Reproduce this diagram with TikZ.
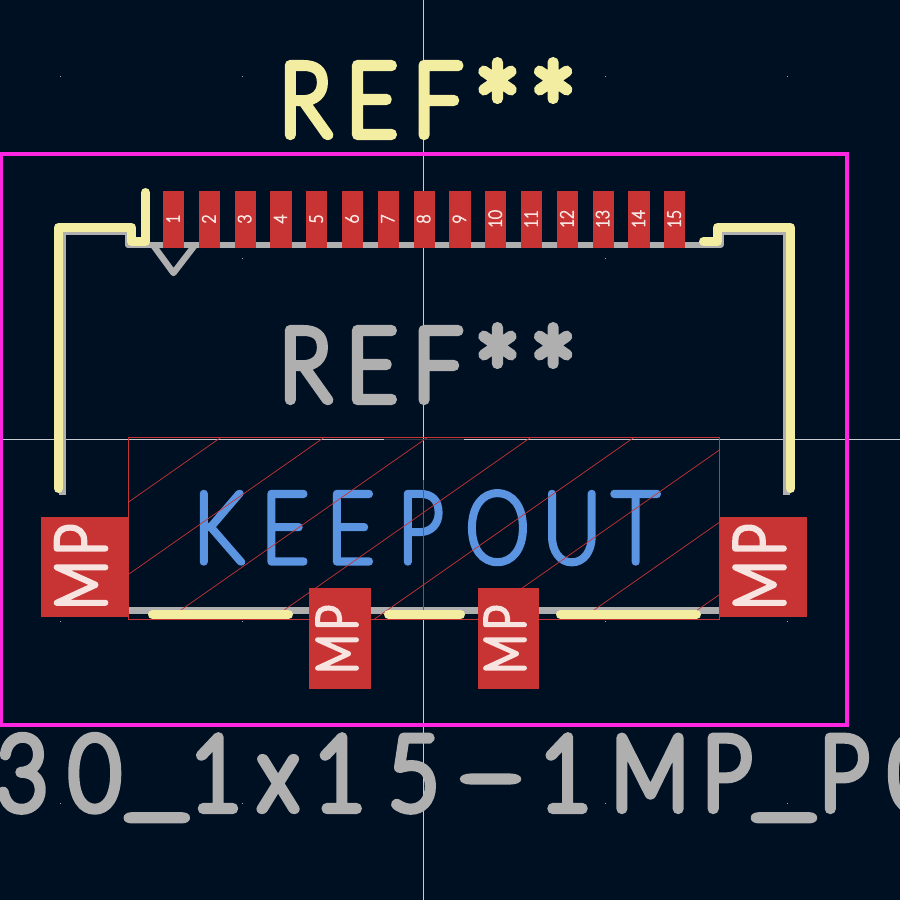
\documentclass[tikz,border=0pt]{standalone}
\usepackage{fontspec}
\setmainfont{Lato}
\newfontfamily\refF[LetterSpace=17,FakeStretch=.85]{Lato Hairline}
\newfontfamily\keepF[LetterSpace=19,FakeStretch=.82]{Lato Hairline}
\newfontfamily\longF[LetterSpace=22,FakeStretch=.85]{Lato Hairline}
\newfontfamily\padF[FakeStretch=.85]{Lato Hairline}
\newfontfamily\mpF[LetterSpace=8,FakeStretch=.78]{Lato Hairline}
\definecolor{bgc}{HTML}{001023}
\definecolor{silk}{HTML}{F2EDA1}
\definecolor{fab}{HTML}{AFAFAF}
\definecolor{court}{HTML}{FF26E2}
\definecolor{padc}{HTML}{C83434}
\definecolor{padt}{HTML}{F7E4E0}
\definecolor{keepc}{HTML}{5B94E0}
\definecolor{crossc}{HTML}{C8CCD0}
\newcommand{\strk}[2]{\special{pdf:code 2 Tr 1 J 1 j #1 w}#2\special{pdf:code 0 Tr}}
\newcommand{\lowast}{\raisebox{-25pt}{\fontsize{132}{132}\selectfont *}}
\newcommand{\wideus}{\raisebox{4pt}{\scalebox{1.5}[1]{\_}}}
\tikzset{
  silkline/.style={draw=silk,line width=9pt,line cap=round,line join=round},
  fabline/.style={draw=fab,line width=6.3pt,line cap=round,line join=round},
  txt/.style={inner sep=0pt,outer sep=0pt,anchor=base west},
  padnum/.style={inner sep=0pt,rotate=90,text=padt},
}
\begin{document}
\begin{tikzpicture}[x=1pt,y=-1pt]
\useasboundingbox (0,0) rectangle (900,900);
\begin{scope}
\clip (0,0) rectangle (900,900);
\fill[bgc] (0,0) rectangle (900,900);
\foreach \gx in {60,242,605,787}\foreach \gy in {76,258,621,803}
  \fill[gray!70] (\gx,\gy) rectangle ++(1,1);
\draw[crossc,line width=.7pt] (423.3,0) -- (423.3,900);
\draw[crossc,line width=.7pt] (0,439.3) -- (900,439.3);
\draw[court,line width=4pt] (1,154) rectangle (847,725);
\node[txt,text=fab,font=\longF\fontsize{102}{102}\selectfont] (valtxt) at (-3,809) {\strk{10}{30\kern8pt\wideus\kern5pt 1\kern18pt x\kern17pt 1\kern24pt 5\kern18pt\scalebox{2.1}[1]{-}\kern16pt 1\kern21pt M\kern14pt P\kern4pt\wideus\kern7pt P\kern21pt 0}};
\draw[fabline,line cap=butt] (62.5,495) -- (62.5,232) -- (128,232) -- (128,245) -- (720.5,245) -- (720.5,232) -- (786.5,232) -- (786.5,495);
\draw[fabline,line cap=butt] (129,610.5) -- (719,610.5);
\draw[fabline,line cap=butt,miter limit=4] (153,245) -- (173.5,273) -- (195,245);
\node[txt,text=silk,font=\refF\fontsize{100}{100}\selectfont] (reftop) at (280,135) {\strk{10}{REF\kern12pt\lowast\kern8pt\lowast}};
\node[txt,text=fab,font=\refF\fontsize{100}{100}\selectfont] (refmid) at (280,400) {\strk{10}{REF\kern12pt\lowast\kern8pt\lowast}};
\node[txt,text=keepc,font=\keepF\fontsize{98}{98}\selectfont] (keep) at (194,562) {\strk{7}{KEE\kern24pt P\kern23pt O\kern14pt U\kern12pt T}};
\draw[padc,line width=.8pt] (128.3,437.3) rectangle (719.3,619.3);
\begin{scope}
\clip (128.3,437.3) rectangle (719.3,619.3);
\foreach \k in {0,...,8}
  \draw[padc,line width=.7pt] ({221+103.3*\k},437.3) -- ++(-400,280);
\end{scope}
\draw[padc,line width=.7pt] (423.3,480) -- (423.3,610);
\draw[bgc!60!gray,line width=.7pt] (384,439.3) -- (464,439.3);
\draw[silkline] (58.5,488.5) -- (58.5,227.5) -- (131.5,227.5) -- (131.5,241.5) -- (145.5,241.5) -- (145.5,192.5);
\draw[silkline] (790.5,488.5) -- (790.5,227.5) -- (717.5,227.5) -- (717.5,241.5) -- (703.5,241.5);
\draw[silkline] (152.5,614.5) -- (288.5,614.5);
\draw[silkline] (388.5,614.5) -- (460.5,614.5);
\draw[silkline] (560.5,614.5) -- (696.5,614.5);
\foreach \i in {1,...,15}{
  \pgfmathsetmacro{\cx}{173.5+35.8*(\i-1)}
  \fill[padc] (\cx-10.6,191) rectangle (\cx+10.6,248);
  \node[padnum,font=\padF\fontsize{18}{18}\selectfont] (pn\i) at (\cx-0.5,219) {\strk{1.3}{\i}};
}
\fill[padc] (41,517) rectangle (129,617);
\fill[padc] (719,517) rectangle (807,617);
\fill[padc] (309,588) rectangle (370.5,689);
\fill[padc] (477.5,588) rectangle (539,689);
\node[padnum,font=\mpF\fontsize{70}{70}\selectfont] (mp1) at (81,567) {\strk{5.5}{MP}};
\node[padnum,font=\mpF\fontsize{56}{56}\selectfont] (mp3) at (337,639.5) {\strk{4.5}{MP}};
\node[padnum,font=\mpF\fontsize{70}{70}\selectfont] (mp2) at (759.5,567) {\strk{5.5}{MP}};
\node[padnum,font=\mpF\fontsize{56}{56}\selectfont] (mp4) at (505,639.5) {\strk{4.5}{MP}};
\end{scope}
\end{tikzpicture}
\end{document}
